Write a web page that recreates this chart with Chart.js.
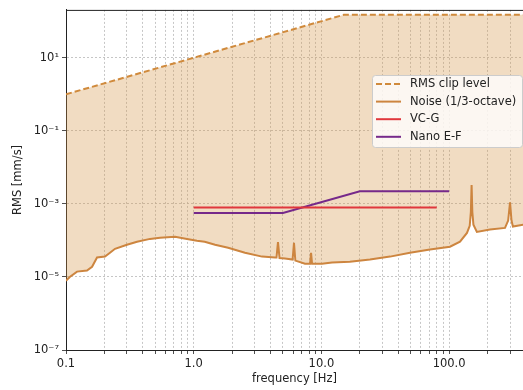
<!DOCTYPE html>
<html>
<head>
<meta charset="utf-8">
<script src="https://cdn.jsdelivr.net/npm/chart.js@4"></script>
<style>
  html, body { margin: 0; padding: 0; background: #fff; }
  #wrap { width: 523px; height: 390px; }
</style>
</head>
<body>
<div id="wrap"><canvas id="rms-chart" width="523" height="390"></canvas></div>
<script>
// values
const clipFreq = [0.1, 15, 400];
const clipRms = [1.0, 150, 150];

const noiseFreq = [0.1, 0.107, 0.122, 0.146, 0.16, 0.175, 0.202, 0.221, 0.242, 0.3, 0.36, 0.455,
  0.545, 0.714, 0.887, 1.06, 1.22, 1.47, 1.86, 2.52, 3.43, 4.34, 4.45, 4.57, 4.7, 5.19, 5.95,
  6.1, 6.25, 7.44, 8.15, 8.3, 8.45, 10.1, 12.1, 16.7, 24, 34.5, 49.4, 70.8, 101.6, 121.7, 138,
  145, 148, 150, 152, 155, 165, 209, 274, 290, 300, 308, 316, 380];
const noiseRms = [7.9e-6, 1.0e-5, 1.4e-5, 1.5e-5, 1.9e-5, 3.4e-5, 3.6e-5, 4.6e-5, 5.9e-5, 7.6e-5,
  9.2e-5, 1.1e-4, 1.19e-4, 1.26e-4, 1.1e-4, 9.8e-5, 9.2e-5, 7.6e-5, 6.3e-5, 4.6e-5, 3.6e-5,
  3.4e-5, 3.4e-5, 9e-5, 3.3e-5, 3.2e-5, 3.0e-5, 8.6e-5, 2.8e-5, 2.3e-5, 2.3e-5, 4.6e-5, 2.3e-5,
  2.3e-5, 2.5e-5, 2.6e-5, 3.0e-5, 3.6e-5, 4.6e-5, 5.6e-5, 6.7e-5, 9.2e-5, 1.6e-4, 2.5e-4, 6e-4,
  3.3e-3, 6e-4, 2.7e-4, 1.7e-4, 2.0e-4, 2.2e-4, 3.5e-4, 1.1e-3, 3.5e-4, 2.4e-4, 2.7e-4];

const vcgFreq = [1, 80];
const vcgRms = [8e-4, 8e-4];

const nanoFreq = [1, 5, 20, 100];
const nanoRms = [5.6e-4, 5.6e-4, 2.2e-3, 2.2e-3];

const xDecades = [0.1, 1, 10, 100];
const xTickLabels = ['0.1', '1.0', '10.0', '100.0'];
const yTicks = [1e-7, 1e-5, 1e-3, 1e-1, 1e1];
const yTickLabels = ['10⁻⁷', '10⁻⁵', '10⁻³', '10⁻¹', '10¹'];

const pts = (xs, ys) => xs.map((x, i) => ({ x: x, y: ys[i] }));

// minor grid positions on the log x axis
const xGrid = [];
xDecades.forEach(d => {
  for (let m = 1; m <= 9; m++) {
    if (d * m < 379) xGrid.push(d * m);
  }
});

const FONT = 'DejaVu Sans';

// legend inside the plot + top frame line
const frameAndLegend = {
  id: 'frameAndLegend',
  afterDraw(chart) {
    const ctx = chart.ctx;
    const area = chart.chartArea;
    ctx.save();
    ctx.strokeStyle = '#222';
    ctx.lineWidth = 1;
    ctx.beginPath();
    ctx.moveTo(area.left, area.top + 0.5);
    ctx.lineTo(area.right, area.top + 0.5);
    ctx.stroke();

    // legend box
    const bx = 372.5, by = 75.5, bw = 150, bh = 72;
    ctx.fillStyle = 'rgba(255,255,255,0.8)';
    ctx.strokeStyle = '#cccccc';
    ctx.beginPath();
    ctx.roundRect(bx, by, bw, bh, 3);
    ctx.fill();
    ctx.stroke();

    ctx.font = '11.5px "' + FONT + '"';
    ctx.textBaseline = 'middle';
    ctx.textAlign = 'left';
    chart.data.datasets.forEach((ds, i) => {
      const y = 84 + i * 17.6;
      ctx.strokeStyle = ds.borderColor;
      ctx.lineWidth = ds.borderWidth;
      ctx.setLineDash(ds.borderDash || []);
      ctx.beginPath();
      ctx.moveTo(376, y);
      ctx.lineTo(401, y);
      ctx.stroke();
      ctx.setLineDash([]);
      ctx.fillStyle = '#222';
      ctx.fillText(ds.label, 410, y);
    });
    ctx.restore();
  }
};

const ctxRms = document.getElementById('rms-chart').getContext('2d');
const rmsChart = new Chart(ctxRms, {
  type: 'line',
  data: {
    datasets: [
      {
        label: 'RMS clip level',
        data: pts(clipFreq, clipRms),
        borderColor: '#d08a3c',
        borderWidth: 2,
        borderDash: [6, 3],
        backgroundColor: 'rgba(214,150,70,0.33)',
        fill: 1,
      },
      {
        label: 'Noise (1/3-octave)',
        data: pts(noiseFreq, noiseRms),
        borderColor: '#cd853f',
        borderWidth: 2,
        fill: false,
      },
      {
        label: 'VC-G',
        data: pts(vcgFreq, vcgRms),
        borderColor: '#e0373c',
        borderWidth: 2,
        fill: false,
      },
      {
        label: 'Nano E-F',
        data: pts(nanoFreq, nanoRms),
        borderColor: '#76298a',
        borderWidth: 2,
        fill: false,
      },
    ],
  },
  options: {
    responsive: false,
    animation: false,
    layout: { padding: { top: 9, right: 0, left: 0, bottom: 0 } },
    elements: {
      point: { radius: 0 },
      line: { tension: 0 },
    },
    plugins: {
      legend: { display: false },
      tooltip: { enabled: false },
      filler: { drawTime: 'beforeDatasetsDraw' },
    },
    scales: {
      x: {
        type: 'logarithmic',
        min: 0.1,
        max: 379,
        afterFit: (s) => { s.height = 40; },
        afterBuildTicks: (s) => { s.ticks = xGrid.map(v => ({ value: v })); },
        ticks: {
          autoSkip: false,
          maxRotation: 0,
          padding: 3,
          color: '#222',
          font: { family: FONT, size: 11.5 },
          callback: (v) => {
            const i = xDecades.findIndex(d => Math.abs(d - v) < d * 1e-6);
            return i >= 0 ? xTickLabels[i] : '';
          },
        },
        grid: {
          color: '#b8b8b8',
          lineWidth: 0.8,
          tickLength: 4,
          tickColor: '#222',
          tickBorderDash: [],
        },
        border: { display: true, color: '#222', width: 1, dash: [2, 2] },
        title: {
          display: true,
          text: 'frequency [Hz]',
          color: '#222',
          font: { family: FONT, size: 11.5 },
          padding: { top: 0, bottom: 4 },
        },
      },
      y: {
        type: 'logarithmic',
        min: 1e-7,
        max: 204,
        afterFit: (s) => { s.width = 66; },
        afterBuildTicks: (s) => { s.ticks = yTicks.map(v => ({ value: v })); },
        ticks: {
          autoSkip: false,
          padding: 3,
          color: '#222',
          font: { family: FONT, size: 11.5 },
          callback: (v) => {
            const i = yTicks.findIndex(t => Math.abs(t - v) < t * 1e-6);
            return i >= 0 ? yTickLabels[i] : '';
          },
        },
        grid: {
          color: '#b8b8b8',
          lineWidth: 0.8,
          tickLength: 4,
          tickColor: '#222',
          tickBorderDash: [],
        },
        border: { display: true, color: '#222', width: 1, dash: [2, 2] },
        title: {
          display: true,
          text: 'RMS [mm/s]',
          color: '#222',
          font: { family: FONT, size: 11.5 },
          padding: { top: 11, bottom: 0 },
        },
      },
    },
  },
  plugins: [frameAndLegend],
});
</script>
</body>
</html>
